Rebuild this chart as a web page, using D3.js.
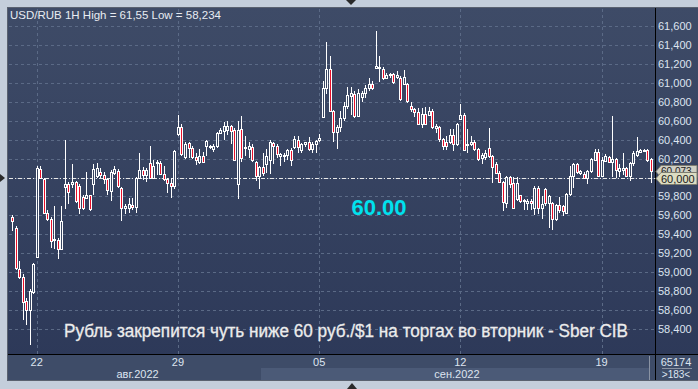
<!DOCTYPE html>
<html>
<head>
<meta charset="utf-8">
<script src="https://cdn.jsdelivr.net/npm/d3@7"></script>
<style>
body { margin: 0; background: #c4cedb; }
svg { display: block; font-family: "Liberation Sans", Arial, sans-serif; }
</style>
</head>
<body>
<script>
// hourly USD/RUB bars
var open = [
  59.58,59.47,59.03,58.95,58.70,58.60,58.79,59.16,60.09,59.98,
  59.63,59.56,59.34,59.34,59.25,59.90,59.93,59.93,59.95,59.91,
  59.79,59.78,59.81,59.93,60.02,60.06,60.03,59.98,59.86,60.05,
  60.07,59.89,59.68,59.68,59.71,59.69,59.99,60.08,60.03,60.15,
  60.00,60.15,60.15,60.04,59.98,59.94,59.91,60.46,60.53,60.22,
  60.36,60.31,60.22,60.16,60.23,60.33,60.32,60.30,60.33,60.47,
  60.49,60.50,60.54,60.50,59.93,60.51,60.31,60.30,60.32,60.16,
  60.02,60.11,60.14,60.18,60.36,60.33,60.23,60.23,60.24,60.29,
  60.32,60.40,60.29,60.35,60.37,60.30,60.35,60.40,60.64,60.94,
  61.15,60.70,60.48,60.53,60.63,60.75,60.86,60.88,60.65,60.85,
  60.89,60.95,60.99,61.16,61.17,61.15,61.05,61.08,61.09,61.06,
  61.05,60.99,60.99,60.76,60.72,60.69,60.56,60.67,60.66,60.70,
  60.52,60.53,60.41,60.38,60.37,60.45,60.35,60.62,60.66,60.34,
  60.35,60.37,60.30,60.21,60.22,60.31,60.23,60.14,60.05,59.95,
  59.73,60.01,59.94,59.77,59.81,59.75,59.73,59.75,59.68,59.89,
  59.68,59.88,59.73,59.73,59.56,59.71,59.70,59.63,59.83,60.02,
  60.14,60.05,60.04,60.00,60.07,60.19,60.27,60.02,60.17,60.22,
  60.16,60.20,60.07,60.08,60.10,60.02,60.15,60.24,60.27,60.28,
  60.29,60.20
];
var high = [
  59.60,59.49,59.12,58.98,58.73,58.82,59.10,60.12,60.12,60.00,
  59.66,59.58,59.70,59.36,59.70,60.40,59.95,60.14,59.96,59.93,
  59.82,60.06,59.82,60.14,60.15,60.10,60.06,60.00,60.08,60.12,
  60.09,59.90,59.72,59.78,59.78,60.01,60.26,60.11,60.10,60.33,
  60.19,60.19,60.17,60.12,60.00,60.00,60.29,60.66,60.56,60.37,
  60.37,60.33,60.26,60.30,60.27,60.40,60.34,60.35,60.48,60.52,
  60.59,60.60,60.55,60.52,60.60,60.65,60.44,60.37,60.35,60.17,
  60.12,60.26,60.30,60.40,60.37,60.35,60.26,60.26,60.30,60.31,
  60.44,60.44,60.36,60.38,60.43,60.37,60.40,60.46,61.02,61.43,
  61.28,60.71,60.55,60.70,60.80,60.96,60.96,60.91,60.93,60.91,
  60.98,61.05,61.02,61.55,61.28,61.17,61.10,61.10,61.10,61.12,
  61.07,61.14,61.00,60.80,60.73,60.73,60.73,60.74,60.74,60.72,
  60.57,60.54,60.42,60.44,60.51,60.51,60.58,60.78,60.68,60.51,
  60.44,60.40,60.31,60.26,60.29,60.52,60.24,60.16,60.07,59.96,
  60.02,60.02,60.01,60.01,59.82,59.77,59.77,59.77,59.91,59.91,
  59.80,59.89,59.82,59.74,59.72,59.79,59.71,59.84,60.12,60.15,
  60.15,60.08,60.06,60.08,60.21,60.30,60.30,60.22,60.25,60.23,
  60.65,60.21,60.14,60.26,60.11,60.16,60.28,60.43,60.30,60.30,
  60.30,60.21
];
var low = [
  59.44,59.02,58.93,58.49,58.44,58.234,58.77,59.15,59.98,59.62,
  59.54,59.26,59.25,59.14,59.24,59.67,59.72,59.89,59.73,59.61,
  59.66,59.77,59.65,59.81,60.00,60.00,59.93,59.81,59.75,60.03,
  59.89,59.54,59.61,59.63,59.66,59.63,59.98,59.97,59.95,59.98,
  59.99,60.03,60.03,59.96,59.84,59.78,59.88,60.44,60.23,60.20,
  60.21,60.20,60.13,60.14,60.15,60.23,60.30,60.27,60.31,60.46,
  60.40,60.45,60.35,60.18,59.77,60.16,60.23,60.21,60.16,59.96,
  59.88,60.02,60.05,60.04,60.14,60.21,60.12,60.16,60.18,60.12,
  60.30,60.26,60.26,60.32,60.28,60.26,60.26,60.38,60.63,60.88,
  60.69,60.38,60.30,60.48,60.60,60.72,60.66,60.63,60.64,60.80,
  60.84,60.91,60.92,61.15,61.01,61.03,61.04,61.05,60.99,61.04,
  60.81,60.98,60.79,60.69,60.64,60.55,60.52,60.55,60.66,60.51,
  60.47,60.38,60.29,60.29,60.35,60.28,60.33,60.61,60.28,60.26,
  60.33,60.28,60.17,60.14,60.18,60.21,59.94,60.04,59.94,59.65,
  59.68,59.89,59.67,59.75,59.73,59.66,59.66,59.66,59.60,59.61,
  59.56,59.70,59.47,59.45,59.54,59.63,59.59,59.61,59.80,59.89,
  60.04,60.03,59.98,59.93,60.05,60.17,60.01,60.01,60.16,60.15,
  60.01,60.00,60.01,60.03,60.01,59.96,60.12,60.22,60.26,60.27,
  60.16,59.94
];
var close = [
  59.54,59.04,58.95,58.68,58.60,58.80,59.09,60.10,60.00,59.63,
  59.56,59.33,59.35,59.25,59.54,59.93,59.85,59.95,59.75,59.68,
  59.68,59.81,59.67,60.09,60.10,60.03,59.98,59.87,60.06,60.09,
  59.91,59.68,59.70,59.72,59.69,59.99,60.08,60.03,60.08,60.00,
  60.12,60.16,60.04,59.98,59.94,59.91,60.28,60.53,60.25,60.35,
  60.31,60.22,60.19,60.23,60.16,60.39,60.33,60.33,60.47,60.50,
  60.54,60.54,60.49,60.19,60.50,60.21,60.32,60.33,60.18,60.02,
  60.11,60.05,60.23,60.37,60.33,60.25,60.25,60.24,60.29,60.18,
  60.41,60.32,60.35,60.37,60.30,60.35,60.39,60.42,60.95,61.15,
  60.70,60.48,60.53,60.63,60.75,60.87,60.89,60.65,60.89,60.89,
  60.94,60.99,60.94,61.18,61.16,61.05,61.08,61.09,61.01,61.08,
  60.83,61.06,60.81,60.72,60.69,60.56,60.67,60.56,60.70,60.53,
  60.54,60.41,60.33,60.33,60.45,60.35,60.57,60.66,60.29,60.35,
  60.37,60.30,60.20,60.24,60.26,60.23,60.11,60.05,59.95,59.74,
  60.01,59.93,59.68,59.94,59.75,59.76,59.75,59.73,59.89,59.68,
  59.72,59.73,59.80,59.56,59.71,59.66,59.65,59.83,60.02,60.14,
  60.06,60.07,60.00,60.07,60.20,60.27,60.02,60.19,60.23,60.16,
  60.20,60.08,60.10,60.10,60.02,60.15,60.26,60.28,60.29,60.29,
  60.19,60.073
];

var yTicks = [58.4,58.6,58.8,59.0,59.2,59.4,59.6,59.8,60.0,60.2,60.4,60.6,60.8,61.0,61.2,61.4,61.6];
var dayIdx = [7, 47, 87, 127, 167];
var dayLabels = ["22", "29", "05", "12", "19"];
var monthStart = [0, 71];
var monthLabels = ["авг.2022", "сен.2022"];
var levelPrice = 60.0;
var bigLabel = "60.00";
var headline = "Рубль закрепится чуть ниже 60 руб./$1 на торгах во вторник - Sber CIB";
var barsInfo = ["65174", ">183<"];

var W = 698, H = 389;
var plotL = 9, plotR = 655, plotT = 9, plotB = 354, stripB = 380;

var svg = d3.select("body").append("svg")
  .attr("width", W).attr("height", H);

var defs = svg.append("defs");
var grad = defs.append("linearGradient").attr("id", "bg")
  .attr("x1", 0).attr("y1", 0).attr("x2", 0).attr("y2", 1);
grad.append("stop").attr("offset", "0%").attr("stop-color", "#3e4b67");
grad.append("stop").attr("offset", "100%").attr("stop-color", "#2c3858");

// outer frame
svg.append("rect").attr("width", W).attr("height", H).attr("fill", "#c4cedb");
svg.append("rect").attr("x", 7.5).attr("y", 7.5).attr("width", W - 7).attr("height", stripB - 7)
  .attr("fill", "url(#bg)").attr("stroke", "#5a6270");

var n = open.length;
var x = d3.scaleLinear().domain([0, n - 1]).range([12, 651]);
var y = d3.scaleLinear().domain([58.4, 61.6]).range([329, 26]);
var step = x(1) - x(0);

// date strip
svg.append("rect").attr("x", 8).attr("y", plotB).attr("width", W - 8).attr("height", stripB - plotB)
  .attr("fill", "#3e4c68");
svg.append("rect").attr("x", Math.round(x(monthStart[1]) - step / 2)).attr("y", 368)
  .attr("width", 649 - Math.round(x(monthStart[1]) - step / 2)).attr("height", stripB - 368)
  .attr("fill", "#4b5a77");
svg.append("line").attr("x1", 649.5).attr("x2", 649.5).attr("y1", plotB + 2).attr("y2", stripB)
  .attr("stroke", "#8a93a3");

// grid
var grid = svg.append("g").attr("stroke", "#5b6a86").attr("stroke-dasharray", "3,3")
  .attr("shape-rendering", "crispEdges");
grid.selectAll("line.h").data(yTicks).enter().append("line")
  .attr("x1", plotL).attr("x2", plotR)
  .attr("y1", function(d) { return Math.round(y(d)) + 0.5; })
  .attr("y2", function(d) { return Math.round(y(d)) + 0.5; });
grid.selectAll("line.v").data(dayIdx).enter().append("line")
  .attr("y1", plotT).attr("y2", plotB)
  .attr("x1", function(d) { return Math.round(x(d)) + 0.5; })
  .attr("x2", function(d) { return Math.round(x(d)) + 0.5; });

// level line
svg.append("line").attr("x1", plotL).attr("x2", plotR)
  .attr("y1", Math.round(y(levelPrice)) + 0.5).attr("y2", Math.round(y(levelPrice)) + 0.5)
  .attr("stroke", "#e8e8e8").attr("stroke-dasharray", "4,2,1,2");

// candles
var idx = d3.range(n);
var candles = svg.append("g").attr("shape-rendering", "crispEdges");
candles.selectAll("line").data(idx).enter().append("line")
  .attr("x1", function(i) { return Math.round(x(i)) + 0.5; })
  .attr("x2", function(i) { return Math.round(x(i)) + 0.5; })
  .attr("y1", function(i) { return Math.round(y(high[i])); })
  .attr("y2", function(i) { return Math.round(y(low[i])); })
  .attr("stroke", "#ffffff");
candles.selectAll("rect").data(idx).enter().append("rect")
  .attr("x", function(i) { return Math.round(x(i)) - 0.5; })
  .attr("width", 2)
  .attr("y", function(i) { return Math.round(y(Math.max(open[i], close[i]))) + 0.5; })
  .attr("height", function(i) {
    return Math.max(0, Math.round(y(Math.min(open[i], close[i]))) - Math.round(y(Math.max(open[i], close[i]))));
  })
  .attr("fill", function(i) { return close[i] < open[i] ? "#e8102a" : "#3a4763"; })
  .attr("stroke", "#ffffff");

// axis separators
svg.append("line").attr("x1", 655.5).attr("x2", 655.5).attr("y1", 8).attr("y2", stripB)
  .attr("stroke", "#000");
svg.append("line").attr("x1", 8).attr("x2", W).attr("y1", plotB + 0.5).attr("y2", plotB + 0.5)
  .attr("stroke", "#000");

// y labels (the level tick sits under its price box)
var fmt = function(v, p) { return d3.format("." + p + "f")(v).replace(".", ","); };
svg.append("g").selectAll("text").data(yTicks.filter(function(d) { return d !== levelPrice; }))
  .enter().append("text")
  .attr("x", 658).attr("y", function(d) { return y(d) + 4; })
  .attr("font-size", 11).attr("fill", "#dde4f0")
  .text(function(d) { return fmt(d, 3); });

// price boxes
function priceBox(v, fill, size, dy) {
  var cy = Math.round(y(v)) + 0.5;
  svg.append("path")
    .attr("d", "M656," + cy + "L661," + (cy - 6) + "L697," + (cy - 6) + "L697," + (cy + 6) + "L661," + (cy + 6) + "Z")
    .attr("fill", fill).attr("stroke", "#7d7d70");
  svg.append("text").attr("x", 661).attr("y", cy + dy)
    .attr("font-size", size).attr("fill", "#1a1a1a")
    .text(fmt(v, 3));
}
priceBox(close[n - 1], "#cfcfc4", 10, 3);
priceBox(levelPrice, "#dcdcc2", 11, 4);

// date labels
svg.append("g").selectAll("text").data(dayIdx).enter().append("text")
  .attr("x", function(d) { return x(d); }).attr("y", 366)
  .attr("text-anchor", "middle").attr("font-size", 11).attr("fill", "#dde4f0")
  .text(function(d, i) { return dayLabels[i]; });
var mEdges = monthStart.map(function(s) { return x(s) - step / 2; }).concat([649]);
svg.append("g").selectAll("text").data(monthLabels).enter().append("text")
  .attr("x", function(d, i) { return (Math.max(mEdges[i], 9) + mEdges[i + 1]) / 2 + 2; })
  .attr("y", 378).attr("text-anchor", "middle").attr("font-size", 11).attr("fill", "#dde4f0")
  .text(function(d) { return d; });

// bars count box
svg.append("text").attr("x", 676).attr("y", 366).attr("text-anchor", "middle")
  .attr("font-size", 11).attr("fill", "#dde4f0").text(barsInfo[0]);
svg.append("line").attr("x1", 662).attr("x2", 692).attr("y1", 368.5).attr("y2", 368.5)
  .attr("stroke", "#8a93a3");
svg.append("text").attr("x", 676).attr("y", 378).attr("text-anchor", "middle")
  .attr("font-size", 10).attr("fill", "#dde4f0").text(barsInfo[1]);

// title
svg.append("text").attr("x", 10).attr("y", 19).attr("font-size", 11.5).attr("fill", "#e8ecf2")
  .text("USD/RUB 1H High = " + String(d3.max(high)).replace(".", ",") +
        " Low = " + String(d3.min(low)).replace(".", ","));

// big value
svg.append("text").attr("x", 379).attr("y", 215).attr("text-anchor", "middle")
  .attr("font-size", 22).attr("font-weight", "bold").attr("fill", "#00e1ee")
  .text(bigLabel);

// headline, squeezed to the reference width
svg.append("text").attr("x", 64).attr("y", 336.5).attr("font-size", 17.5)
  .attr("fill", "#ececec").attr("stroke", "#ececec").attr("stroke-width", 0.3)
  .attr("textLength", 564).attr("lengthAdjust", "spacingAndGlyphs")
  .text(headline);

// small markers
svg.append("path").attr("d", "M346,0L356,0L351,5Z").attr("fill", "#2a2a2a");
svg.append("path").attr("d", "M347,389L357,389L352,383Z").attr("fill", "#2a2a2a");
svg.append("path").attr("d", "M0,174L5,178L0,182Z").attr("fill", "#2a2a2a");
</script>
</body>
</html>
